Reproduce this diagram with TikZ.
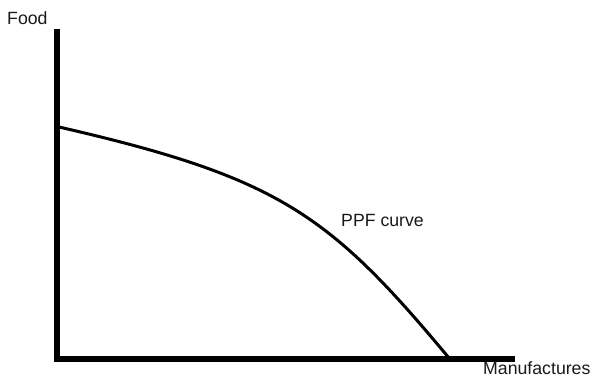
\documentclass[tikz,border=0pt]{standalone}
\usepackage{fontspec}
\setmainfont{Liberation Sans}
\begin{document}
\begin{tikzpicture}[x=1pt,y=-1pt,
  axis/.style={line width=6pt, line join=miter},
  ppf/.style={line width=3pt},
  lbl/.style={anchor=base west, inner sep=0pt, font=\fontsize{17.7}{21}\selectfont, text=black!90}]
\useasboundingbox (0,0) rectangle (592,379);
\coordinate (ytop) at (56.5,29);
\coordinate (origin) at (56.5,359);
\coordinate (xend) at (515,359);
\draw[axis] (ytop) -- (origin) -- (xend);
\coordinate (pstart) at (59,127);
\coordinate (pend) at (449,358);
\draw[ppf] (pstart) .. controls (279,177.6) and (329,214) .. (pend);
\node[lbl] (food) at (7,25) {Food};
\node[lbl] (manu) at (483,375) {Manufactures};
\node[lbl] (ppflabel) at (341,227) {PPF curve};
\end{tikzpicture}
\end{document}
